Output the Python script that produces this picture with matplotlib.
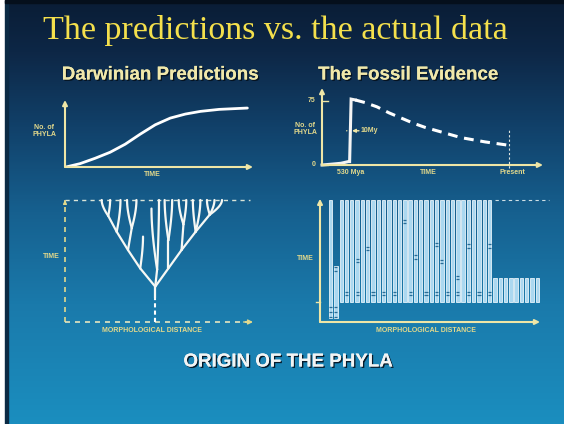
import numpy as np
import matplotlib
matplotlib.use('Agg')
import matplotlib.pyplot as plt
from matplotlib import patheffects as pe
from matplotlib.colors import LinearSegmentedColormap
from matplotlib.patches import Rectangle

W, H = 564, 424

# ---------------- data ----------------
# Panel 1: Darwinian prediction (number of phyla vs time)
pred_time = [0.5, 8, 16, 24, 32, 40, 48, 56, 64, 72, 82, 97]
pred_phyla = [0, 5, 13, 22, 34, 49, 63, 73, 79, 83, 86, 88]

# Panel 2: fossil evidence (millions of years ago, number of phyla)
fossil_solid_mya = [623, 590, 560, 535, 531, 526, 512]
fossil_solid_phyla = [0, 1, 2, 4, 4, 77, 76]
fossil_dash_mya = [512, 480, 440, 400, 360, 320, 280, 240, 200, 160, 120, 80, 40, 0]
fossil_dash_phyla = [76, 73, 68, 61, 55, 49, 44, 40, 36, 32, 29.5, 27, 25, 23]
phyla_ticks = [0, 75]
phyla_tick_labels = ['0', '75']

# Panel 3: predicted branching tree (morphological distance, time, parent node)
tree_x = [48, 48, 48, 40, 33.5, 27.5, 23, 19.5, 24, 29.5, 35.5, 33, 38, 41.5,
          49, 46, 50, 55, 55, 53, 57, 62, 63, 60.5, 64.5, 69.5, 68, 72,
          77, 75.5, 79.5, 83.5]
tree_t = [0, 20, 29, 44, 59, 74, 87, 100, 100, 100, 77, 100, 100, 70,
          43, 93, 100, 44, 67, 100, 100, 59, 80, 100, 100, 74, 100, 100,
          88, 100, 100, 100]
tree_parent = [-1, 0, 1, 2, 3, 4, 5, 6, 6, 5, 4, 10, 10, 3,
               2, 14, 14, 2, 17, 18, 18, 17, 21, 22, 22, 21, 25, 25,
               25, 28, 28, 28]

# Panel 4: observed phyla (one bar per phylum)
bar_top = [100, 46, 100, 100, 100, 100, 100, 100, 100, 100,
           100, 100, 100, 100, 100, 100, 100, 100, 100, 100,
           100, 100, 100, 100, 100, 100, 100, 100, 100, 100,
           100, 36, 36, 36, 36, 36, 36, 36, 36, 36]
bar_bottom = [3, 3, 16.5, 16.5, 16.5, 16.5, 16.5, 16.5, 16.5, 16.5,
              16.5, 16.5, 16.5, 16.5, 16.5, 16.5, 16.5, 16.5, 16.5, 16.5,
              16.5, 16.5, 16.5, 16.5, 16.5, 16.5, 16.5, 16.5, 16.5, 16.5,
              16.5, 16.5, 16.5, 16.5, 16.5, 16.5, 16.5, 16.5, 16.5, 16.5]
nan = float('nan')
bar_mark = [nan, 42, nan, nan, nan, 49, nan, 59, nan, nan,
            nan, nan, nan, nan, 81, nan, 52, nan, nan, nan,
            62, 48, nan, nan, 35, nan, 61, nan, nan, nan,
            61, nan, nan, nan, nan, nan, nan, nan, nan, nan]
bar_low_mark = [nan, nan, nan, 22, nan, 22, nan, nan, 22, nan,
                22, nan, 22, nan, nan, 22, nan, nan, 22, nan,
                22, nan, 22, nan, 22, nan, 22, nan, 22, nan,
                22, nan, nan, nan, nan, nan, nan, nan, nan, nan]
root_marks = [4, 8, 12]

# ---------------- styling ----------------
PALE = '#efe6a6'
LABEL = '#e3d98c'
SANS = 'Liberation Sans'

fig = plt.figure(figsize=(W / 100, H / 100), dpi=100)
fig.patch.set_facecolor('white')

# background gradient
bg = fig.add_axes([7 / W, 0, (W - 7) / W, 1])
cmap = LinearSegmentedColormap.from_list('slide', [
    (0.0, '#0a1d36'), (0.12, '#0d2746'), (0.3, '#11416a'),
    (0.5, '#16608f'), (0.72, '#1a7aab'), (1.0, '#1b8ebf')])
bg.imshow(np.linspace(0, 1, 300).reshape(-1, 1), cmap=cmap, aspect='auto',
          extent=[0, 1, 0, 1], origin='upper')
bg.set_axis_off()
fig.add_artist(Rectangle((5 / W, 0), 2.5 / W, 1, transform=fig.transFigure,
                         color='#0b2a44', zorder=5))
fig.add_artist(Rectangle((5 / W, 1 - 3 / H), 1, 3 / H, transform=fig.transFigure,
                         color='#050f1c', zorder=5))


def px_axes(x0, y0, x1, y1):
    ax = fig.add_axes([x0 / W, 1 - y1 / H, (x1 - x0) / W, (y1 - y0) / H])
    ax.set_facecolor('none')
    ax.set_axis_off()
    return ax


def ftext(x, y, s, **kw):
    kw.setdefault('ha', 'center')
    kw.setdefault('va', 'center')
    return fig.text(x / W, 1 - y / H, s, **kw)


def arrow(ax, xy0, xy1, color=PALE, lw=1.5, ms=7, style='-|>', ls='-'):
    ax.annotate('', xy=xy1, xytext=xy0, xycoords='axes fraction',
                textcoords='axes fraction',
                arrowprops=dict(arrowstyle=style, color=color, lw=lw, ls=ls,
                                mutation_scale=ms, shrinkA=0, shrinkB=0),
                annotation_clip=False)


shadow = [pe.withSimplePatchShadow(offset=(1, -1), shadow_rgbFace='#04101c', alpha=0.9),
          pe.Normal()]

# titles
ftext(275, 30, 'The predictions vs. the actual data', family='Liberation Serif',
      fontsize=24.5, color='#f4e04c')
ftext(160, 75, 'Darwinian Predictions', family=SANS, weight='bold', fontsize=13.5,
      color='#f0e8aa', path_effects=shadow)
ftext(408, 75, 'The Fossil Evidence', family=SANS, weight='bold', fontsize=13.5,
      color='#f0e8aa', path_effects=shadow)
ftext(288, 362, 'ORIGIN OF THE PHYLA', family=SANS, weight='bold', fontsize=13.5,
      color='#f2f4f4', path_effects=shadow)

small = dict(family=SANS, weight='bold', fontsize=5, color=LABEL)

# ---------------- panel 1 ----------------
ax1 = px_axes(65, 100, 253, 167)
ax1.set_xlim(0, 100)
ax1.set_ylim(0, 100)
arrow(ax1, (0, 0), (1, 0))
arrow(ax1, (0, 0), (0, 1))
ax1.plot(pred_time, pred_phyla, color='white', lw=2, solid_capstyle='round')
ftext(44, 131, 'No. of\nPHYLA', linespacing=0.95, **small)
ftext(152, 174.5, 'TIME', **small)

# ---------------- panel 2 ----------------
ax2 = px_axes(322, 88, 543, 165)
ax2.set_xlim(623, -113)
ax2.set_ylim(0, 90)
arrow(ax2, (0, 0), (1, 0))
arrow(ax2, (0, 0), (0, 1))
ax2.plot(fossil_solid_mya, fossil_solid_phyla, color='#f4f4f4', lw=2.2,
         solid_joinstyle='miter', clip_on=False)
ax2.plot(fossil_dash_mya, fossil_dash_phyla, color='white', lw=2.2,
         ls=(0, (3.2, 2.2)), clip_on=False)
for v, lab in zip(phyla_ticks, phyla_tick_labels):
    ax2.plot([623, 603], [v, v], color=PALE, lw=1, clip_on=False)
    ax2.text(-0.03, v, lab, transform=ax2.get_yaxis_transform(), ha='right',
             va='center', **small)
ax2.vlines(0, -3, 43, color='#dfe6e0', lw=0.8, ls=(0, (2, 2)), clip_on=False)
ax2.annotate('', xy=(531, 40), xytext=(550, 40),
             arrowprops=dict(arrowstyle='-', color=PALE, lw=1))
ax2.annotate('', xy=(523, 40), xytext=(500, 40),
             arrowprops=dict(arrowstyle='-|>', color=PALE, lw=1, mutation_scale=5,
                             shrinkA=0, shrinkB=0))
ax2.text(495, 40, '10My', ha='left', va='center', **small)
ftext(305, 129, 'No. of\nPHYLA', linespacing=0.95, **small)
ftext(351, 172, '530 Mya', **small)
ftext(428, 172, 'TIME', **small)
ftext(512, 172, 'Present', **small)

# ---------------- panel 3 ----------------
ax3 = px_axes(65, 200, 253, 322)
ax3.set_xlim(0, 100)
ax3.set_ylim(0, 100)
dash = (0, (3, 3))
ax3.plot([0, 0.985], [1, 1], transform=ax3.transAxes, color='#d9e4d8', lw=1,
         ls=dash, clip_on=False)
ax3.plot([0, 0], [0, 1], transform=ax3.transAxes, color=LABEL, lw=1.2,
         ls=dash, clip_on=False)
ax3.plot([0, 0.97], [0, 0], transform=ax3.transAxes, color='#e6e6c0', lw=1.2,
         ls=dash, clip_on=False)
arrow(ax3, (0.95, 0), (1, 0), color=LABEL, lw=1, ms=7)
arrow(ax3, (0, 0.97), (0, 1.0), color=LABEL, lw=1, ms=5)
tt = np.linspace(0, 1, 24)
has_child = set(p for p in tree_parent if p >= 0)
for i, p in enumerate(tree_parent):
    if p < 0:
        continue
    x0, y0 = tree_x[p], tree_t[p]
    x1, y1 = tree_x[i], tree_t[i]
    if i in has_child:
        bx, by = np.array([x0, x1]), np.array([y0, y1])
    else:
        cx, cy = x1, y0 + 0.6 * (y1 - y0)
        bx = (1 - tt) ** 2 * x0 + 2 * (1 - tt) * tt * cx + tt ** 2 * x1
        by = (1 - tt) ** 2 * y0 + 2 * (1 - tt) * tt * cy + tt ** 2 * y1
    if p == 0:
        ax3.plot(bx, by, color='white', lw=1.5, ls=(0, (2, 1.5)), clip_on=False)
    else:
        ax3.plot(bx, by, color='#f6f8f4', lw=1.6, solid_capstyle='round',
                 solid_joinstyle='round', clip_on=False)
ftext(51, 257, 'TIME', **small)
ftext(152, 330, 'MORPHOLOGICAL DISTANCE', **small)

# ---------------- panel 4 ----------------
ax4 = px_axes(320, 200, 545, 322)
ax4.set_xlim(-2.0, 40.45)
ax4.set_ylim(0, 100)
idx = np.arange(len(bar_top))
top = np.array(bar_top)
bot = np.array(bar_bottom)
ax4.bar(idx, top - bot, bottom=bot, width=0.64, color='#abd8f0',
        edgecolor='#f4fbff', linewidth=0.55, zorder=2)
bw = 0.3
for i, m in enumerate(bar_mark):
    if not np.isnan(m):
        ax4.hlines([m, m + 2.8], i - bw, i + bw, color='#2a6c96', lw=0.9, zorder=3)
for i, m in enumerate(bar_low_mark):
    if not np.isnan(m):
        ax4.hlines([m, m + 2.8], i - bw, i + bw, color='#2a6c96', lw=0.9, zorder=3)
for i in (0, 1):
    ax4.hlines(root_marks, i - bw, i + bw, color='#2a6c96', lw=0.9, zorder=3)
ax4.plot([31, 41.2], [100, 100], color='#cfe0e6', lw=0.8, ls=(0, (3, 3)),
         clip_on=False)
arrow(ax4, (0, 0), (0.978, 0), color=PALE, lw=1.5)
arrow(ax4, (0, 0), (0, 1.01), color=PALE, lw=1.5)
ax4.plot([-2.8, -2.0], [16.5, 16.5], color=PALE, lw=1, clip_on=False)
ftext(305, 259, 'TIME', **small)
ftext(426, 331, 'MORPHOLOGICAL DISTANCE', **small)

fig.savefig('out.png', dpi=100, facecolor=fig.get_facecolor())
